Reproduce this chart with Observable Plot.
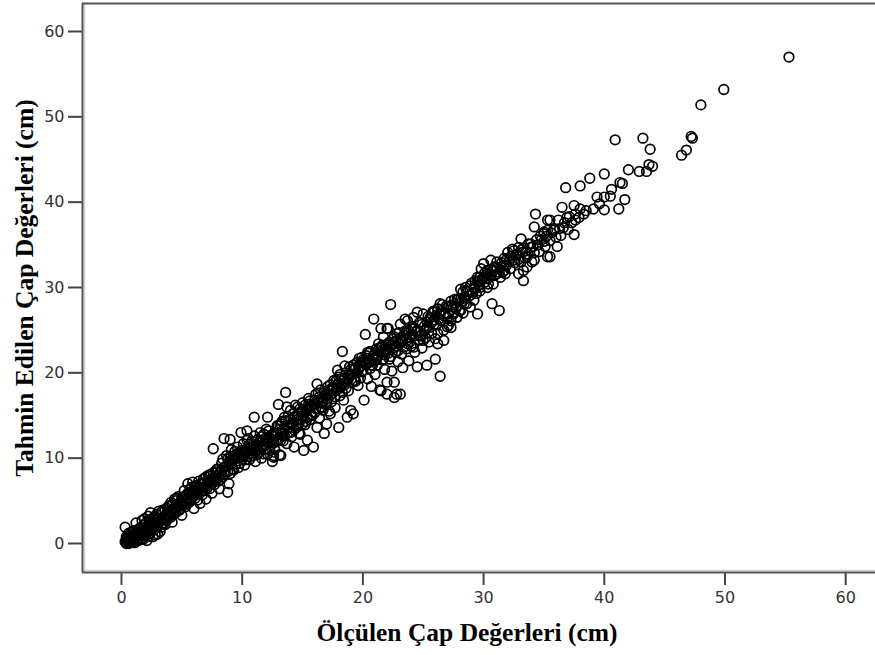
<!DOCTYPE html>
<html>
<head>
<meta charset="utf-8">
<script src="https://cdn.jsdelivr.net/npm/d3@7"></script>
<script src="https://cdn.jsdelivr.net/npm/@observablehq/plot@0.6"></script>
<style>
  html, body { margin: 0; padding: 0; background: #fff; }
</style>
</head>
<body>
<div id="chart"></div>
<script>
// Measured diameter (cm)
const olculen = [
  0.3,0.4,0.5,0.6,0.7,0.8,0.9,1.0,0.3,0.6,
  1.1,1.2,1.3,1.4,1.5,1.6,1.7,1.8,1.9,2.0,
  2.1,2.0,2.2,2.3,2.4,2.5,2.6,2.7,2.8,2.9,
  3.0,3.1,3.2,3.3,3.4,3.5,3.6,3.7,3.8,3.9,
  1.0,1.5,2.2,2.6,3.0,1.2,0.8,1.7,2.4,3.3,
  0.5,1.1,1.9,2.8,3.6,0.4,1.4,2.3,3.1,3.8,
  4.0,4.1,4.2,4.3,4.4,4.5,4.6,4.7,4.8,4.9,
  5.0,5.1,5.2,5.3,5.4,5.5,5.6,5.7,5.8,5.9,
  6.0,6.1,6.2,6.3,6.4,6.5,6.6,6.7,6.8,6.9,
  7.0,7.1,7.2,7.3,7.4,7.5,7.6,7.7,7.8,7.9,
  8.0,8.1,8.2,4.5,5.2,6.3,7.0,4.0,5.8,6.7,
  7.6,8.5,8.8,8.9,4.1,5.5,6.1,7.3,4.4,5.0,
  8.3,8.4,8.6,8.7,8.8,9.0,9.1,9.2,9.3,9.5,
  9.6,9.7,9.8,10.0,10.1,10.2,10.3,10.5,10.6,10.7,
  10.9,11.0,11.1,11.2,11.4,11.5,11.6,11.7,11.9,12.0,
  12.1,12.2,12.4,12.5,12.6,12.7,12.9,13.0,13.1,13.2,
  9.9,10.4,9.0,11.0,12.1,12.6,13.2,10.4,11.2,11.8,
  12.6,8.5,9.4,10.8,11.3,12.3,9.0,10.1,11.8,12.8,
  13.3,13.4,13.5,13.6,13.0,13.7,13.8,13.9,14.0,14.1,
  14.2,14.3,14.4,14.5,14.6,14.7,14.8,14.9,15.0,15.1,
  15.2,15.3,15.4,15.5,15.6,15.7,15.9,16.0,16.1,16.2,
  16.3,16.4,16.5,16.6,16.7,16.8,16.9,17.0,17.1,17.2,
  17.3,17.4,17.6,17.7,17.8,17.9,18.0,18.1,18.2,18.3,
  18.4,18.5,18.6,18.7,18.8,18.9,19.0,19.1,19.2,19.3,
  16.2,13.2,13.7,14.3,15.0,15.8,16.5,17.5,18.0,19.0,
  14.0,15.5,17.0,18.5,19.4,13.5,14.6,16.0,17.3,18.1,
  19.5,19.6,19.7,19.8,19.9,20.0,20.1,20.2,20.3,20.4,
  20.5,20.6,20.7,20.8,20.9,21.0,21.1,21.2,21.3,21.4,
  21.5,21.5,21.6,21.7,21.8,21.9,22.0,22.0,22.1,22.2,
  22.3,22.3,22.4,22.5,22.6,22.6,22.7,22.8,22.8,22.9,
  23.0,23.1,23.1,23.2,23.3,23.4,23.5,23.6,23.7,23.8,
  23.9,24.0,24.1,24.2,24.3,24.4,24.5,24.5,24.6,24.7,
  24.8,24.9,25.0,25.0,25.1,25.2,25.3,25.3,25.4,25.5,
  25.6,25.7,25.8,25.9,26.0,26.0,26.1,26.2,26.2,26.4,
  21.5,22.0,23.1,23.7,24.2,26.7,26.2,27.3,19.8,20.4,
  26.5,26.6,26.7,26.8,27.0,27.0,27.1,27.3,27.3,27.5,
  27.5,27.6,27.8,27.8,28.0,28.1,28.1,28.2,28.4,28.4,
  28.5,28.6,28.6,28.8,28.9,28.9,29.0,29.2,29.2,29.3,
  29.4,29.5,29.5,29.6,29.7,29.7,29.7,29.8,30.0,30.0,
  30.1,30.3,30.3,30.3,30.4,30.6,30.7,30.8,30.8,30.9,
  31.1,31.1,31.3,31.4,31.4,31.6,31.7,31.7,31.8,31.9,
  26.4,26.2,25.9,26.4,25.6,27.8,28.3,27.0,
  32.0,32.2,32.2,32.4,32.5,32.6,32.8,32.9,32.9,33.1,
  33.1,33.2,33.3,33.3,33.4,33.6,33.6,33.7,33.9,34.0,
  34.2,34.2,34.2,34.3,34.5,34.6,34.8,35.0,35.0,35.1,
  35.3,35.3,35.3,35.5,35.5,35.5,35.8,36.0,36.1,36.2,
  36.4,36.5,36.6,36.8,36.9,37.0,37.3,37.5,37.5,37.6,
  38.0,38.0,38.3,38.5,38.8,
  39.1,39.4,39.6,40.0,40.0,40.0,40.5,40.6,40.9,41.2,
  41.3,41.5,41.7,42.0,42.9,43.2,43.5,43.7,43.8,44.0,
  46.4,46.8,47.2,47.3,48.0,49.9,55.3,
  0.5,0.7,0.9,1.1,1.3,1.5,1.7,1.9,2.1,2.3,
  2.5,2.7,2.9,3.1,3.3,3.5,3.7,3.9,4.1,4.3,
  4.5,4.7,4.9,5.1,5.3,5.5,5.7,5.9,6.1,6.3,
  6.5,6.7,6.9,7.1,7.3,7.5,7.7,7.9,8.1,8.3,
  8.5,8.7,8.9,9.1,9.3,9.5,9.7,9.9,10.1,10.3,
  10.5,10.7,10.9,11.1,11.3,11.5,11.7,11.9,12.1,12.3,
  12.5,12.7,12.9,13.1,13.3,13.5,13.7,13.9,14.1,14.3,
  14.5,14.7,14.9,15.1,15.3,15.5,15.7,15.9,16.1,16.3,
  16.5,16.7,16.9,17.1,17.3,17.5,17.7,17.9,18.1,18.3,
  18.5,18.7,18.9,19.1,19.3,19.5,19.7,19.9,20.1,20.3,
  20.5,20.7,20.9,21.1,21.3,21.5,21.7,21.9,22.1,22.3,
  22.5,22.7,22.9,23.1,23.3,23.5,23.7,23.9,24.1,24.3,
  24.5,24.7,24.9,25.1,25.3,25.5,25.7,25.9,26.1,26.3,
  26.5,26.7,26.9,27.1,27.3,27.5,27.7,27.9,28.1,28.3,
  28.5,28.7,28.9,29.1,29.3,29.5,29.7,29.9,30.1,30.3,
  30.5,30.7,30.9,31.1,31.3,31.5,31.7,31.9,32.1,32.3,
  32.5,32.7,32.9,33.1,33.3,33.5,33.7,33.9,34.1,34.4,
  34.7,35.0,35.2,35.6,35.9,36.3,36.7,37.1,37.6,37.9,
  0.4,0.6,0.8,1.0,1.2,1.4,1.6,1.8,2.0,2.2,
  2.4,2.6,2.8,3.0,3.2,3.4,3.6,3.8,4.0,4.2,
  4.4,4.6,4.8,5.0,5.2,5.4,5.6,5.8,6.0,6.2,
  6.4,6.6,6.8,7.0,7.2,7.4,7.6,7.8,8.0,8.2,
  8.4,8.6,8.8,9.0,9.2,9.4,9.6,9.8,10.0,10.2,
  10.4,10.6,10.8,11.0,11.2,11.4,11.6,11.8,12.0,12.2,
  12.4,12.6,12.8,13.0,13.2,13.4,13.6,13.8,14.0,14.2,
  14.4,14.6,14.8,15.0,15.2,15.4,15.6,15.8,16.0,16.2,
  16.4,16.6,16.8,17.0,17.2,17.4,17.6,17.8,18.0,18.2,
  18.4,18.6,18.8,19.0,19.2,19.4,19.6,19.8,20.0,20.2,
  20.4,20.6,20.8,21.0,21.2,21.4,21.6,21.8,22.0,22.2,
  22.4,22.6,22.8,23.0,23.2,23.4,23.6,23.8,24.0,24.2
];

// Estimated diameter (cm), same order as olculen
const tahmin = [
  0.2,0.5,0.1,0.4,0.9,0.3,0.6,0.2,1.9,1.2,
  1.1,0.7,1.5,0.9,1.8,1.2,0.6,2.1,1.5,0.9,
  0.35,2.4,1.7,2.8,1.2,2.1,3.0,1.6,2.5,3.4,
  2.0,2.9,1.4,3.6,2.4,3.1,4.0,2.7,3.5,4.4,
  1.5,0.4,3.2,0.8,1.1,2.4,1.3,2.7,3.6,1.9,
  0.7,0.1,2.9,1.0,3.0,0.0,1.3,1.9,3.8,2.8,
  3.2,4.8,2.5,4.1,5.2,3.6,4.6,5.5,3.9,4.9,
  3.3,5.4,6.2,4.3,5.7,7.0,4.8,6.4,5.3,7.2,
  4.1,6.0,6.8,5.1,7.3,4.7,6.5,5.7,7.6,6.2,
  5.2,7.0,8.0,6.4,7.5,5.9,8.3,6.9,7.9,8.7,
  7.3,6.4,8.4,5.0,4.6,6.0,7.8,4.4,6.6,7.0,
  11.1,12.3,6.0,7.0,3.1,5.9,5.3,7.2,4.0,4.6,
  9.4,7.8,9.0,10.3,8.4,9.7,11.0,8.7,10.2,9.3,
  11.3,8.9,10.6,9.9,11.7,9.2,10.8,12.3,9.8,11.2,
  10.3,12.6,9.6,11.5,10.7,13.0,10.0,12.0,11.1,13.4,
  10.5,12.4,11.6,9.6,12.9,11.0,13.8,12.2,10.4,12.8,
  13.0,13.2,12.2,14.8,14.8,10.3,10.3,12.1,11.3,10.5,
  10.1,8.1,9.9,10.9,12.2,12.0,8.2,10.4,11.7,11.9,
  14.3,12.0,13.5,17.7,16.3,11.7,14.9,13.1,15.6,12.5,
  14.1,11.3,16.2,13.6,15.2,12.9,12.8,14.6,16.5,10.9,
  13.9,15.7,12.1,17.0,14.5,16.1,11.3,15.3,17.5,13.6,
  16.6,14.7,18.0,15.9,17.0,12.9,16.3,14.0,18.4,15.5,
  17.4,16.6,19.1,15.9,18.0,20.3,13.6,17.3,19.3,22.5,
  16.8,18.6,20.0,14.8,17.9,19.6,15.6,18.9,15.2,20.4,
  18.7,12.1,16.0,14.8,14.0,15.0,16.0,17.6,18.8,19.8,
  13.0,15.8,16.5,20.8,19.0,14.8,13.9,16.8,18.6,19.8,
  21.2,18.5,20.6,19.4,21.8,20.2,16.8,24.5,21.0,19.3,
  22.3,20.5,18.4,21.7,26.3,19.8,22.8,20.9,23.4,18.0,
  25.2,17.9,21.5,24.2,20.4,22.6,17.5,18.9,25.2,21.6,
  28.0,23.0,20.2,24.0,18.9,17.1,22.4,17.5,24.6,21.3,
  23.4,17.5,25.7,22.2,20.6,24.4,26.3,22.8,26.1,21.4,
  24.2,23.1,25.4,26.5,22.4,24.8,20.7,27.1,23.8,25.9,
  24.4,22.9,26.9,23.8,25.5,24.1,20.9,25.3,26.6,23.6,
  26.5,24.6,27.2,25.7,21.6,24.0,26.8,27.5,23.4,19.6,
  23.0,25.2,23.8,23.4,23.0,25.0,24.6,25.3,20.8,22.4,
  26.1,28.0,23.8,27.0,26.5,27.7,25.6,27.9,26.1,27.1,
  27.7,28.6,26.5,28.5,27.3,29.8,27.3,28.4,28.9,28.1,
  30.0,29.6,28.1,29.0,29.1,27.7,30.5,28.5,30.0,30.8,
  29.3,31.2,26.9,30.3,30.0,31.2,29.6,32.2,32.8,31.2,
  30.6,32.0,30.0,31.6,30.4,33.2,28.1,32.0,30.4,31.4,
  33.0,31.6,27.3,32.4,31.2,31.8,33.4,32.0,31.6,32.6,
  28.1,27.5,27.1,26.9,26.5,26.5,27.0,25.4,
  34.1,32.2,33.4,34.5,34.3,32.9,33.9,34.7,31.6,35.7,
  33.0,34.1,32.0,30.8,33.5,33.6,32.4,35.1,35.1,33.0,
  34.1,33.2,37.1,38.6,35.0,34.2,35.6,36.3,36.5,34.8,
  36.7,33.6,37.9,35.5,33.6,37.9,36.7,35.9,34.8,37.9,
  36.1,39.4,37.0,41.7,38.2,36.8,37.6,39.6,36.2,37.9,
  41.9,39.2,38.6,39.0,42.8,
  39.2,40.6,39.8,43.3,40.6,39.1,40.7,41.5,47.3,39.2,
  42.3,42.2,40.3,43.8,43.6,47.5,43.6,44.4,46.2,44.2,
  45.5,46.1,47.7,47.5,51.4,53.2,57.0,
  0.3,0.2,1.0,0.5,0.3,1.1,1.5,1.0,1.3,1.5,
  1.7,2.3,2.1,2.5,2.8,2.3,3.3,3.1,3.8,3.4,
  4.2,4.3,4.1,4.6,5.0,5.2,5.0,5.9,6.6,5.8,
  5.9,6.3,7.1,6.5,7.9,7.0,7.5,7.6,8.0,8.6,
  8.9,9.1,9.5,9.3,8.6,10.5,10.1,10.4,10.2,9.8,
  10.5,10.2,11.6,10.9,11.0,11.9,11.3,12.3,11.8,10.9,
  12.2,12.6,12.0,13.4,13.0,12.6,13.8,14.2,14.0,13.3,
  14.5,14.0,15.5,15.0,14.3,16.3,15.0,16.4,15.8,17.6,
  16.9,15.6,17.3,17.0,15.2,18.3,17.2,18.6,18.2,17.7,
  19.4,18.9,20.7,19.8,19.1,20.0,21.7,20.1,21.3,22.0,
  21.2,20.9,22.1,21.5,22.0,22.5,21.6,23.3,22.3,21.9,
  22.9,23.7,22.6,24.1,23.7,24.9,24.7,23.6,24.5,25.2,
  25.0,24.3,25.7,24.9,26.0,25.3,25.9,26.2,25.6,26.3,
  27.3,26.7,27.8,26.9,28.4,26.9,27.5,28.7,28.6,29.5,
  28.8,29.5,30.2,29.4,29.9,30.7,30.8,31.0,31.7,31.0,
  31.4,31.9,32.4,32.3,31.8,32.9,32.6,33.3,33.0,33.7,
  33.2,33.8,33.3,34.4,34.6,34.3,33.9,34.7,34.8,35.6,
  36.0,35.4,36.0,36.4,36.8,36.9,37.6,38.3,38.6,38.2,
  0.8,0.0,0.6,0.8,1.3,1.6,0.9,0.5,1.9,0.8,
  2.6,2.0,3.1,3.0,2.7,3.9,2.2,4.1,3.7,4.5,
  3.9,5.3,4.6,5.4,5.5,4.6,6.0,6.0,5.6,6.2,
  6.5,7.0,6.6,6.8,7.3,8.1,7.4,8.4,8.7,7.5,
  9.9,8.5,9.9,10.2,9.8,10.8,9.7,9.4,10.9,10.6,
  11.0,11.6,12.0,11.1,10.4,11.8,12.5,12.8,12.1,13.2,
  12.7,11.8,12.9,13.8,14.0,13.3,14.4,13.6,14.6,15.2,
  14.9,16.0,15.8,15.4,16.2,14.8,16.7,16.1,16.3,16.6,
  17.2,16.5,17.7,17.6,18.0,17.9,18.3,19.1,19.5,18.5,
  19.1,18.2,19.3,20.4,20.9,20.6,20.3,21.2,21.5,21.1,
  21.7,22.5,20.9,22.3,22.0,22.9,23.2,22.1,22.8,23.6,
  23.3,24.2,23.1,24.7,23.6,23.0,24.1,24.9,25.2,24.3
];

// Axis ticks and titles
const xTicks = [0, 10, 20, 30, 40, 50, 60];
const yTicks = [0, 10, 20, 30, 40, 50, 60];
const xTitle = "Ölçülen Çap Değerleri (cm)";
const yTitle = "Tahmin Edilen Çap Değerleri (cm)";

// Scale extents (slightly beyond the tick range)
const xDomain = [-3.23, 62.47];
const yDomain = [-3.4, 63.28];

const points = olculen.map((x, i) => ({x, y: tahmin[i]}));

const chart = Plot.plot({
  width: 875,
  height: 655,
  marginLeft: 82,
  marginRight: 0,
  marginTop: 3,
  marginBottom: 83,
  style: {background: "#fff", fontFamily: "DejaVu Sans", fontSize: "16px"},
  x: {domain: xDomain},
  y: {domain: yDomain},
  marks: [
    Plot.axisX({ticks: xTicks, tickSize: 13, tickPadding: 6, strokeWidth: 2, stroke: "#444", fill: "#333", fontSize: 16, label: null}),
    Plot.axisY({ticks: yTicks, tickSize: 14, tickPadding: 4, strokeWidth: 2, stroke: "#444", fill: "#333", fontSize: 16, label: null}),
    // soft inner edge beside the left and bottom axis lines
    Plot.ruleX([xDomain[0]], {stroke: "#d4d4d4", strokeWidth: 1.5, dx: 2}),
    Plot.ruleY([yDomain[0]], {stroke: "#d4d4d4", strokeWidth: 1.5, dy: -2}),
    // frame lines
    Plot.ruleX([xDomain[0]], {stroke: "#555", strokeWidth: 2}),
    Plot.ruleY(yDomain, {stroke: "#555", strokeWidth: 2}),
    Plot.dot(points, {x: "x", y: "y", r: 4.8, stroke: "#000", strokeWidth: 1.7, fill: "none"}),
    Plot.text([xTitle], {frameAnchor: "bottom", dy: 68, dx: -12, lineAnchor: "bottom",
      fontFamily: "Liberation Serif", fontWeight: "bold", fontSize: 25.5, fill: "#000"}),
    Plot.text([yTitle], {frameAnchor: "left", dx: -58, rotate: -90, textAnchor: "middle", lineAnchor: "middle",
      fontFamily: "Liberation Serif", fontWeight: "bold", fontSize: 25.5, fill: "#000"})
  ]
});

document.getElementById("chart").appendChild(chart);
</script>
</body>
</html>
